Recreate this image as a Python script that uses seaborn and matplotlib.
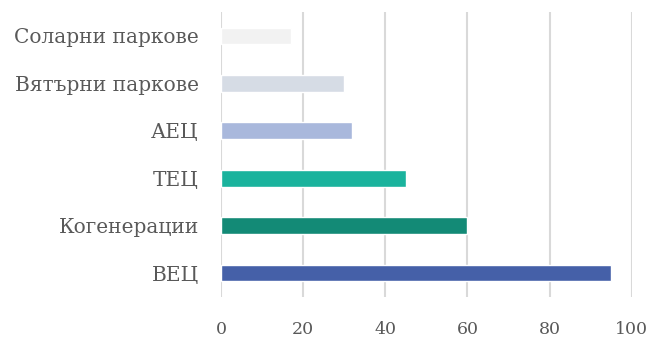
import matplotlib
matplotlib.use("Agg")
import matplotlib.pyplot as plt
import seaborn as sns
import pandas as pd

categories = ["Соларни паркове", "Вятърни паркове", "АЕЦ", "ТЕЦ", "Когенерации", "ВЕЦ"]
values = [17, 30, 32, 45, 60, 95]
colors = ["#f2f2f2", "#d6dce5", "#a9b8dc", "#1ab39d", "#138a76", "#4560a8"]
xticks = [0, 20, 40, 60, 80, 100]

sns.set_theme(style="white")
plt.rcParams["font.family"] = ["DejaVu Serif"]

df = pd.DataFrame({"cat": categories, "val": values})
fig = plt.figure(figsize=(6.5, 3.37), dpi=100)
ax = fig.add_axes([0.34, 0.119, 0.632, 0.845])
sns.barplot(data=df, x="val", y="cat", hue="cat", palette=colors, legend=False,
            width=0.35, ax=ax, saturation=1)
ax.set_xlim(0, 100)
ax.set_ylim(5.5, -0.5)
ax.set_xticks(xticks)
ax.set_xticklabels([str(t) for t in xticks])
ax.xaxis.grid(True, color="#d9d9d9", linewidth=1.5)
ax.set_axisbelow(True)
for s in ax.spines.values():
    s.set_visible(False)
ax.set_xlabel("")
ax.set_ylabel("")
ax.tick_params(axis="y", length=0, pad=16, labelsize=14.5, labelcolor="#595959")
ax.tick_params(axis="x", length=0, pad=17, labelsize=12.5, labelcolor="#595959")
fig.savefig("out.png", dpi=100)
